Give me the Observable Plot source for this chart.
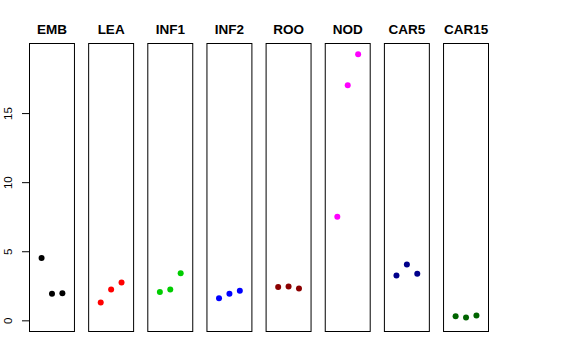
<!DOCTYPE html>
<html>
<head>
<meta charset="utf-8">
<script src="https://cdn.jsdelivr.net/npm/d3@7"></script>
<script src="https://cdn.jsdelivr.net/npm/@observablehq/plot@0.6"></script>
<style>
  html, body { margin: 0; padding: 0; background: #fff; }
  #chart { width: 576px; height: 360px; }
</style>
</head>
<body>
<div id="chart"></div>
<script>
const tissues = ["EMB", "LEA", "INF1", "INF2", "ROO", "NOD", "CAR5", "CAR15"];
const colors  = ["#000000", "#FF0000", "#00CD00", "#0000FF", "#8B0000", "#FF00FF", "#00008B", "#006400"];
const replicates = [1, 2, 3];
const EMB   = [4.54, 1.96, 2.00];
const LEA   = [1.33, 2.27, 2.78];
const INF1  = [2.08, 2.27, 3.45];
const INF2  = [1.64, 1.96, 2.17];
const ROO   = [2.44, 2.49, 2.34];
const NOD   = [7.54, 17.05, 19.30];
const CAR5  = [3.28, 4.08, 3.41];
const CAR15 = [0.34, 0.24, 0.38];
const yTicks = [0, 5, 10, 15];

const seriesValues = [EMB, LEA, INF1, INF2, ROO, NOD, CAR5, CAR15];
const table = [];
tissues.forEach((t, i) => {
  seriesValues[i].forEach((v, j) => table.push({tissue: t, rep: replicates[j], value: v, color: colors[i]}));
});

const ymax = d3.max(table, d => d.value);
const ypad = 0.04 * ymax;

const chart = Plot.plot({
  width: 576,
  height: 360,
  marginLeft: 29,
  marginRight: 88,
  marginTop: 43,
  marginBottom: 29,
  style: {fontFamily: "'Liberation Sans', Arial, sans-serif", background: "#fff"},
  fx: {domain: tissues, paddingInner: 0.24, paddingOuter: 0, round: false, axis: null, label: null},
  x: {domain: [-0.16, 4.16], axis: null},
  y: {domain: [-ypad, ymax + ypad], axis: null},
  marks: [
    Plot.frame({stroke: "black", strokeWidth: 1}),
    Plot.dot(table, {fx: "tissue", x: "rep", y: "value", fill: "color", r: 3, stroke: null}),
    Plot.axisFx({anchor: "top", tickSize: 0, label: null, fontWeight: "bold", fontSize: 13.5, tickPadding: 10}),
    Plot.axisY(yTicks, {anchor: "left", tickSize: 7, stroke: "black", fill: "none", label: null, facetAnchor: "left"}),
    Plot.axisY(yTicks, {anchor: "left", tickSize: 0, fill: "black", label: null, fontSize: 11.5, rotate: -90, textAnchor: "middle", tickPadding: 21, facetAnchor: "left"})
  ]
});
document.getElementById("chart").appendChild(chart);
</script>
</body>
</html>
